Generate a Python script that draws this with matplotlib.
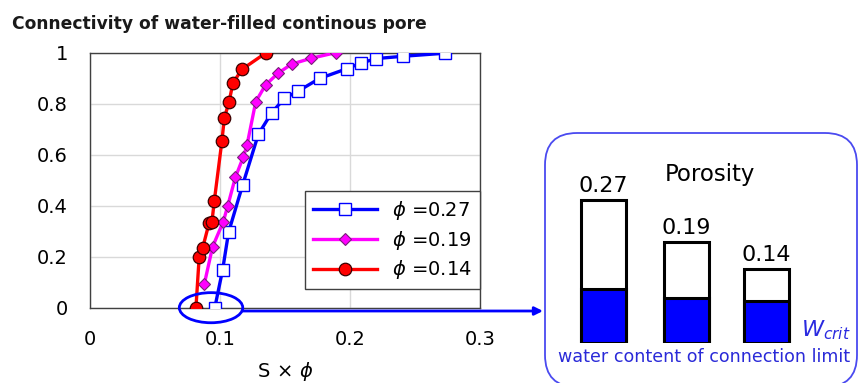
import numpy as np
import matplotlib
matplotlib.use("Agg")
import matplotlib.pyplot as plt
from matplotlib.patches import Ellipse, FancyBboxPatch, FancyArrowPatch

W, H = 859, 383
DPI = 100

# connectivity curves (S x phi, connectivity)
sphi_27 = [0.096, 0.102, 0.1066, 0.1174, 0.1295, 0.1398, 0.1496, 0.160, 0.1766,
           0.198, 0.2087, 0.2203, 0.2408, 0.273]
conn_27 = [0.0, 0.148, 0.296, 0.481, 0.680, 0.765, 0.821, 0.849, 0.899,
           0.938, 0.960, 0.977, 0.986, 0.998]

sphi_19 = [0.0879, 0.0943, 0.1025, 0.106, 0.1118, 0.118, 0.1208, 0.1275, 0.135,
           0.1445, 0.155, 0.170, 0.189]
conn_19 = [0.092, 0.239, 0.337, 0.400, 0.511, 0.592, 0.638, 0.808, 0.873,
           0.919, 0.955, 0.978, 1.0]

sphi_14 = [0.0815, 0.084, 0.0866, 0.0917, 0.0938, 0.0956, 0.1015, 0.1033, 0.107,
           0.110, 0.117, 0.1355]
conn_14 = [0.0, 0.200, 0.233, 0.334, 0.337, 0.418, 0.655, 0.743, 0.808,
           0.882, 0.935, 1.0]

# inset: porosity and critical water content
porosity = [0.27, 0.19, 0.14]
w_crit = [0.101, 0.0855, 0.079]
por_labels = ["0.27", "0.19", "0.14"]


def fx(px):
    return px / W


def fy(py):
    return 1 - py / H


fig = plt.figure(figsize=(W / DPI, H / DPI), dpi=DPI)

# ---- main chart ----
ax = fig.add_axes([fx(90), fy(307.7), (480 - 90) / W, (307.7 - 52.7) / H])
ax.plot(sphi_27, conn_27, color="#0000FF", lw=2.4, marker="s", ms=8,
        mfc="white", mec="#0000FF", mew=1.0, label=r"$\phi$ =0.27", zorder=3)
ax.plot(sphi_19, conn_19, color="#FF00FF", lw=2.4, marker="D", ms=6.5,
        mfc="#FF00FF", mec="#7A1F7A", mew=0.8, label=r"$\phi$ =0.19", zorder=4)
ax.plot(sphi_14, conn_14, color="#FF0000", lw=2.4, marker="o", ms=9,
        mfc="#FF0000", mec="#3A0000", mew=0.9, label=r"$\phi$ =0.14", zorder=5)

ax.set_xlim(0, 0.3)
ax.set_ylim(0, 1)
ax.set_xticks([0, 0.1, 0.2, 0.3])
ax.set_xticklabels(["0", "0.1", "0.2", "0.3"])
ax.set_yticks([0, 0.2, 0.4, 0.6, 0.8, 1])
ax.set_yticklabels(["0", "0.2", "0.4", "0.6", "0.8", "1"])
ax.tick_params(length=0, labelsize=14, pad=16)
ax.grid(color="#d9d9d9", lw=1.0)
ax.set_axisbelow(True)
for s in ax.spines.values():
    s.set_color("#404040")
    s.set_linewidth(1.0)
ax.set_xlabel(r"S$\,\times\,\phi$", fontsize=14, labelpad=8)

leg = ax.legend(loc="lower right", bbox_to_anchor=(1.0, 0.073), borderaxespad=0,
                fontsize=14, frameon=True, fancybox=False, edgecolor="#404040",
                framealpha=1, handlelength=3.3, borderpad=0.4, labelspacing=0.35)
leg.get_frame().set_linewidth(1.0)

ell = Ellipse((0.0931, 0.0), 0.0488, 0.118, fill=False, ec="#0000FF", lw=2.0,
              clip_on=False, zorder=6)
ax.add_patch(ell)

fig.text(fx(12), fy(24), "Connectivity of water-filled continous pore",
         fontsize=12.3, fontweight="bold", ha="left", va="center", color="#1a1a1a")

# arrow to the inset
fig.add_artist(FancyArrowPatch(
    (fx(242.7), fy(311)), (fx(543), fy(311)), transform=fig.transFigure,
    arrowstyle="-|>", mutation_scale=12, color="#0000FF", lw=2.0,
    shrinkA=0, shrinkB=0))

# ---- inset panel ----
box = FancyBboxPatch((545 / DPI, -4 / DPI), (857 - 545) / DPI, (383 + 4 - 133) / DPI,
                     boxstyle="round,pad=0,rounding_size=0.32",
                     transform=fig.dpi_scale_trans, fill=False, ec="#4A4AF0", lw=1.3)
fig.add_artist(box)

ins = fig.add_axes([fx(545), fy(343), (859 - 545) / W, (343 - 133) / H])
ins.set_xlim(-0.714, 3.13)
ins.set_ylim(0, (343 - 133) / 530)
ins.axis("off")
pos = np.array([0, 1.02, 2.0])
ins.bar(pos, porosity, width=0.55, color="white", ec="black", lw=2.2, zorder=2)
ins.bar(pos, w_crit, width=0.55, color="#0000FF", ec="black", lw=2.2, zorder=3)
for p, v, lab in zip(pos, porosity, por_labels):
    ins.text(p, v + 0.008, lab, ha="center", va="bottom", fontsize=16)
ins.text(1.3, 0.317, "Porosity", ha="center", va="center", fontsize=16.5)
ins.text(2.72, 0.025, r"$W_{crit}$", ha="center", va="center", fontsize=16,
         color="#2A2AE0")

fig.text(fx(704), fy(356.5), "water content of connection limit", ha="center",
         va="center", fontsize=12.6, color="#2A2AD8")

fig.savefig("out.png", dpi=DPI)
